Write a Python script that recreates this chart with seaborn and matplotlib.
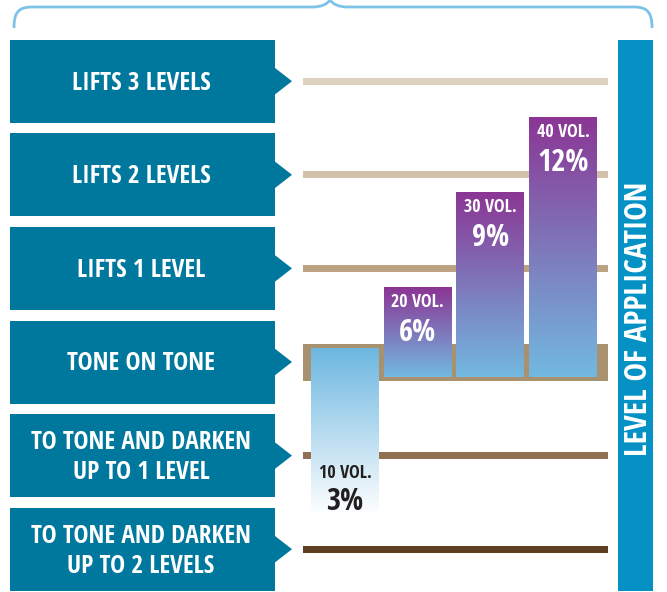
import matplotlib
matplotlib.use("Agg")
import matplotlib.pyplot as plt
from matplotlib.patches import Rectangle, Polygon, PathPatch
from matplotlib.path import Path
from matplotlib.colors import to_rgba
import numpy as np
import pandas as pd
import seaborn as sns

# ---------------- data ----------------
level_names = ["LIFTS 3 LEVELS", "LIFTS 2 LEVELS", "LIFTS 1 LEVEL", "TONE ON TONE",
               "TO TONE AND DARKEN\nUP TO 1 LEVEL", "TO TONE AND DARKEN\nUP TO 2 LEVELS"]
level_values = [3, 2, 1, 0, -1, -2]
level_colors = ["#ddd1c0", "#d3c2ab", "#baa283", "#a8916f", "#8f7050", "#5e3f1f"]

bar_names = ["10 VOL.", "20 VOL.", "30 VOL.", "40 VOL."]
bar_pcts = ["3%", "6%", "9%", "12%"]
bar_tops = [0.15, 0.80, 1.82, 2.62]        # in levels
bar_bottoms = [-1.63, -0.16, -0.16, -0.16]  # in levels

side_title = "LEVEL OF APPLICATION"

# ---------------- style ----------------
W, H = 667, 592
PXL = 93.6  # pixels per level
Y0 = 362    # pixel row of level 0
FONT = ["Open Sans Condensed", "PT Sans Narrow", "DejaVu Sans"]
BOX = "#00789e"
SIDE = "#0591c4"
BRACE = "#7dc3e7"
PURPLE = "#8b3594"
BLUE = "#72b9e1"

sns.set_theme(style="white")
plt.rcParams["font.family"] = FONT

fig = plt.figure(figsize=(W / 100, H / 100), dpi=100)
ylim = (-(H - Y0) / PXL, Y0 / PXL)

def fx(x):
    return x / W

def fy(y):
    return 1 - y / H

# ---------------- bars axes ----------------
ax = fig.add_axes([fx(303), 0, (608 - 303) / W, 1])
df = pd.DataFrame({"vol": bar_names,
                   "height": np.array(bar_tops) - np.array(bar_bottoms)})
sns.barplot(data=df, x="vol", y="height", order=bar_names, bottom=bar_bottoms,
            errorbar=None, width=68 / 72.67, color=BLUE, linewidth=0, zorder=3, ax=ax)

# level lines
for lv, col in zip(level_values, level_colors):
    half = (18.5 if lv == 0 else 3.5) / PXL
    ax.axhspan(lv - half, lv + half, color=col, zorder=1, lw=0)

# gradients
bars = list(ax.containers[0])
for i, p in enumerate(bars):
    x0, y0, w, h = p.get_x(), p.get_y(), p.get_width(), p.get_height()
    if i == 0:
        c_top, c_bot = np.array(to_rgba("#6cb7e0")), np.array(to_rgba("#ffffff"))
    else:
        c_top, c_bot = np.array(to_rgba(PURPLE)), np.array(to_rgba(BLUE))
    t = np.linspace(0, 1, 256)[:, None]
    grad = (c_bot * (1 - t) + c_top * t)[:, None, :]
    im = ax.imshow(grad, extent=[x0, x0 + w, y0, y0 + h], origin="lower",
                   aspect="auto", interpolation="bilinear", zorder=3)
    im.set_clip_path(p)
    p.set_facecolor("none")
    xc = x0 + w / 2
    if i == 0:
        ax.text(xc, y0 + 37 / PXL, bar_names[i], ha="center", va="baseline",
                color="#231f20", fontsize=13, fontweight="bold", zorder=5)
        ax.text(xc, y0 + 5 / PXL, bar_pcts[i], ha="center", va="baseline",
                color="#231f20", fontsize=22, fontweight="bold", zorder=5)
    else:
        top = y0 + h
        ax.text(xc, top - 20 / PXL, bar_names[i], ha="center", va="baseline",
                color="white", fontsize=13, fontweight="bold", zorder=5)
        ax.text(xc, top - 54 / PXL, bar_pcts[i], ha="center", va="baseline",
                color="white", fontsize=22, fontweight="bold", zorder=5)

ax.set_xlim((303 - 345) / 72.67, (608 - 345) / 72.67)
ax.set_ylim(*ylim)
ax.axis("off")

# ---------------- label boxes axes ----------------
axb = fig.add_axes([0, 0, 300 / W, 1])
axb.set_xlim(0, 300)
axb.set_ylim(*ylim)
axb.axis("off")
bh = 83 / PXL
for name, lv in zip(level_names, level_values):
    axb.add_patch(Rectangle((10, lv - bh / 2), 265, bh, color=BOX, lw=0))
    axb.add_patch(Polygon([(274, lv + 14 / PXL), (292, lv), (274, lv - 14 / PXL)],
                          closed=True, color=BOX, lw=0))
    lines = name.split("\n")
    n = len(lines)
    for k, ln in enumerate(lines):
        cy = lv - (k - (n - 1) / 2) * 30 / PXL
        axb.text(141, cy - 8.5 / PXL, ln, ha="center", va="baseline", color="white",
                 fontsize=18.2, fontweight="bold")

# ---------------- side bar ----------------
fig.patches.append(Rectangle((fx(618), fy(591)), 35 / W, 551 / H,
                             transform=fig.transFigure, color=SIDE, lw=0, figure=fig))
fig.text(fx(647), fy(318.5), side_title, rotation=90, rotation_mode="anchor",
         ha="center", va="baseline", color="white", fontsize=22.5, fontweight="bold")

# ---------------- brace ----------------
verts = [(14, 28), (14, 13), (18, 7), (32, 7), (312, 7), (322, 7), (327, 4), (330, 0),
         (333, 4), (338, 7), (348, 7), (634, 7), (648, 7), (652, 13), (652, 28)]
codes = [Path.MOVETO, Path.CURVE4, Path.CURVE4, Path.CURVE4, Path.LINETO,
         Path.CURVE4, Path.CURVE4, Path.CURVE4, Path.CURVE4, Path.CURVE4, Path.CURVE4,
         Path.LINETO, Path.CURVE4, Path.CURVE4, Path.CURVE4]
path = Path([(fx(x), fy(y)) for x, y in verts], codes)
fig.patches.append(PathPatch(path, transform=fig.transFigure, facecolor="none",
                             edgecolor=BRACE, lw=2.0, figure=fig))

fig.savefig("out.png", dpi=100, facecolor="white")
